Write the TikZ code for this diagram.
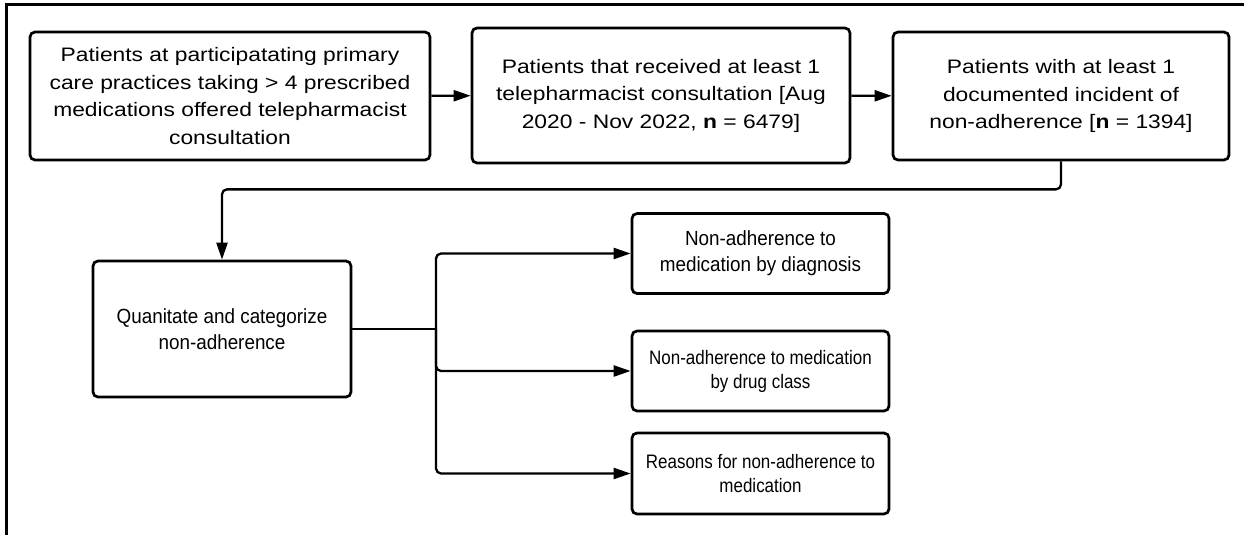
\documentclass[tikz,border=0pt]{standalone}
\usepackage{fontspec}
\setmainfont{Liberation Sans}
\newfontfamily\wideF[FakeStretch=1.17]{Liberation Sans}
\newfontfamily\midF[FakeStretch=0.92]{Liberation Sans}
\newfontfamily\narF[FakeStretch=0.87]{Liberation Sans}
\usetikzlibrary{arrows.meta}
\begin{document}
\begin{tikzpicture}[x=1pt,y=-1pt,
  box/.style={draw, line width=2.7pt, rounded corners=5pt, align=center, inner sep=0pt, fill=white},
  topbox/.style={box, font=\wideF\fontsize{19.5}{27.5}\selectfont},
  midbox/.style={box, font=\midF\fontsize{20.5}{26}\selectfont},
  lowbox/.style={box, font=\narF\fontsize{19.5}{24}\selectfont},
  conn/.style={line width=2.3pt, -{Triangle[length=17pt,width=11pt]}},
  frame/.style={line width=3pt}
]
\useasboundingbox (0,0) rectangle (1244,535);
\draw[frame] (6,535) -- (6,5) -- (1244,5);

\node[topbox, minimum width=400pt, minimum height=128pt] (b1) at (230,96)
  {Patients at participatating primary\\care practices taking > 4 prescribed\\medications offered telepharmacist\\consultation};
\node[topbox, minimum width=378pt, minimum height=135pt] (b2) at (661,95.5)
  {Patients that received at least 1\\telepharmacist consultation [Aug\\2020 - Nov 2022, \textbf{n} = 6479]};
\node[topbox, minimum width=336pt, minimum height=128pt] (b3) at (1061,96)
  {Patients with at least 1\\documented incident of\\non-adherence [\textbf{n} = 1394]};
\node[midbox, minimum width=258pt, minimum height=136pt] (b4) at (222,329)
  {Quanitate and categorize\\non-adherence};
\node[midbox, minimum width=257pt, minimum height=80pt] (b5) at (760.5,253.5)
  {Non-adherence to\\medication by diagnosis};
\node[lowbox, minimum width=257pt, minimum height=80pt] (b6) at (760.5,371)
  {Non-adherence to medication\\by drug class};
\node[lowbox, minimum width=257pt, minimum height=81pt] (b7) at (760.5,473.5)
  {Reasons for non-adherence to\\medication};

\draw[conn] (b1) -- (b2);
\draw[conn] (b2) -- (b3);
\draw[conn, rounded corners=5pt] (b3.south) -- ++(0,28) -| (b4.north);
\coordinate (br) at (436,329);
\draw[line width=2.3pt] (b4.east) -- (br);
\draw[conn, rounded corners=5pt] (br) |- (b5.west);
\draw[conn, rounded corners=5pt] (br) |- (b6.west);
\draw[conn, rounded corners=5pt] (br) |- (b7.west);
\end{tikzpicture}
\end{document}
